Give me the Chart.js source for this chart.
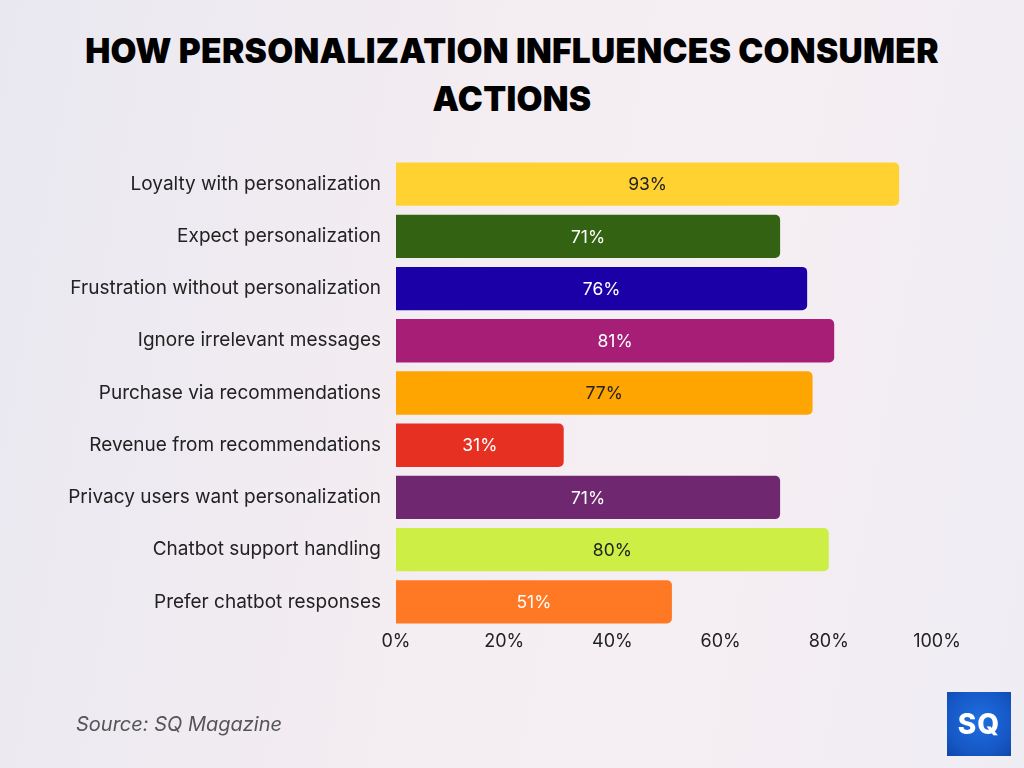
<!DOCTYPE html>
<html>
<head>
<meta charset="utf-8">
<script src="https://cdn.jsdelivr.net/npm/chart.js@4.4.0/dist/chart.umd.min.js"></script>
<style>
  html, body { margin: 0; padding: 0; }
  body {
    width: 1024px; height: 768px; overflow: hidden; position: relative;
    background: linear-gradient(100deg, #e9e8f0 0%, #f4edf2 45%, #f5eef3 70%, #efedf4 100%);
    font-family: "Inter", "Noto Sans", sans-serif;
  }
  #title {
    position: absolute; left: 0; top: 27px; width: 1024px; text-align: center;
    font-weight: 900; font-size: 33.5px; line-height: 48px; color: #000;
    letter-spacing: 0.3px;
  }
  #chartWrap { position: absolute; left: 0; top: 0; width: 1024px; height: 768px; }
  #source {
    position: absolute; left: 76px; top: 712px; font-size: 20px;
    font-style: italic; color: #555;
  }
  #logo {
    position: absolute; left: 947px; top: 692px; width: 64px; height: 64px;
    background: radial-gradient(circle at 50% 45%, #1f6fe0 0%, #1556c4 70%, #0f47a8 100%);
    color: #fff; font-weight: 800; font-size: 28px; line-height: 64px; text-align: center;
    letter-spacing: 1px;
  }
</style>
</head>
<body>
<div id="title">HOW PERSONALIZATION INFLUENCES CONSUMER<br>ACTIONS</div>
<div id="chartWrap"><canvas id="chart" width="1024" height="768"></canvas></div>
<div id="source">Source: SQ Magazine</div>
<div id="logo">SQ</div>
<script>
// Chart data
const categories = [
    'Loyalty with personalization',
    'Expect personalization',
    'Frustration without personalization',
    'Ignore irrelevant messages',
    'Purchase via recommendations',
    'Revenue from recommendations',
    'Privacy users want personalization',
    'Chatbot support handling',
    'Prefer chatbot responses'
];
const values = [93, 71, 76, 81, 77, 31, 71, 80, 51];
const barColors = ['#ffd232', '#336312', '#1b00a8', '#a71e76', '#ffa502', '#e63122', '#6f2870', '#cdee45', '#ff7823'];
const labelColors = ['#222', '#fff', '#fff', '#fff', '#222', '#fff', '#fff', '#222', '#fff'];
const xTicks = [0, 20, 40, 60, 80, 100];

// draws the value in the middle of each bar
const valueLabels = {
    id: 'valueLabels',
    afterDatasetsDraw(chart) {
        const ctx = chart.ctx;
        const meta = chart.getDatasetMeta(0);
        ctx.save();
        ctx.font = '17.5px Inter, "Noto Sans", sans-serif';
        ctx.textAlign = 'center';
        ctx.textBaseline = 'middle';
        meta.data.forEach((bar, i) => {
            ctx.fillStyle = labelColors[i];
            ctx.fillText(values[i] + '%', (bar.base + bar.x) / 2, bar.y + 1);
        });
        ctx.restore();
    }
};

new Chart(document.getElementById('chart'), {
    type: 'bar',
    data: {
        labels: categories,
        datasets: [{
            data: values,
            backgroundColor: barColors,
            borderRadius: { topLeft: 0, bottomLeft: 0, topRight: 5, bottomRight: 5 },
            borderSkipped: false,
            barPercentage: 0.83,
            categoryPercentage: 1
        }]
    },
    options: {
        indexAxis: 'y',
        responsive: false,
        animation: false,
        layout: { padding: { left: 0, right: 87, top: 158, bottom: 100 } },
        plugins: { legend: { display: false }, tooltip: { enabled: false } },
        scales: {
            x: {
                min: 0, max: 100,
                afterFit: (scale) => { scale.height = 40; },
                afterBuildTicks: (scale) => { scale.ticks = xTicks.map(v => ({ value: v })); },
                grid: { display: false, drawTicks: false },
                border: { display: false },
                ticks: {
                    color: '#222', padding: 3,
                    font: { size: 18, family: 'Inter, "Noto Sans", sans-serif' },
                    callback: (v) => v + '%'
                }
            },
            y: {
                afterFit: (scale) => { scale.width = 396; },
                grid: { display: false, drawTicks: false },
                border: { display: false },
                ticks: {
                    color: '#222', padding: 15,
                    font: { size: 19, family: 'Inter, "Noto Sans", sans-serif' }
                }
            }
        }
    },
    plugins: [valueLabels]
});
</script>
</body>
</html>
